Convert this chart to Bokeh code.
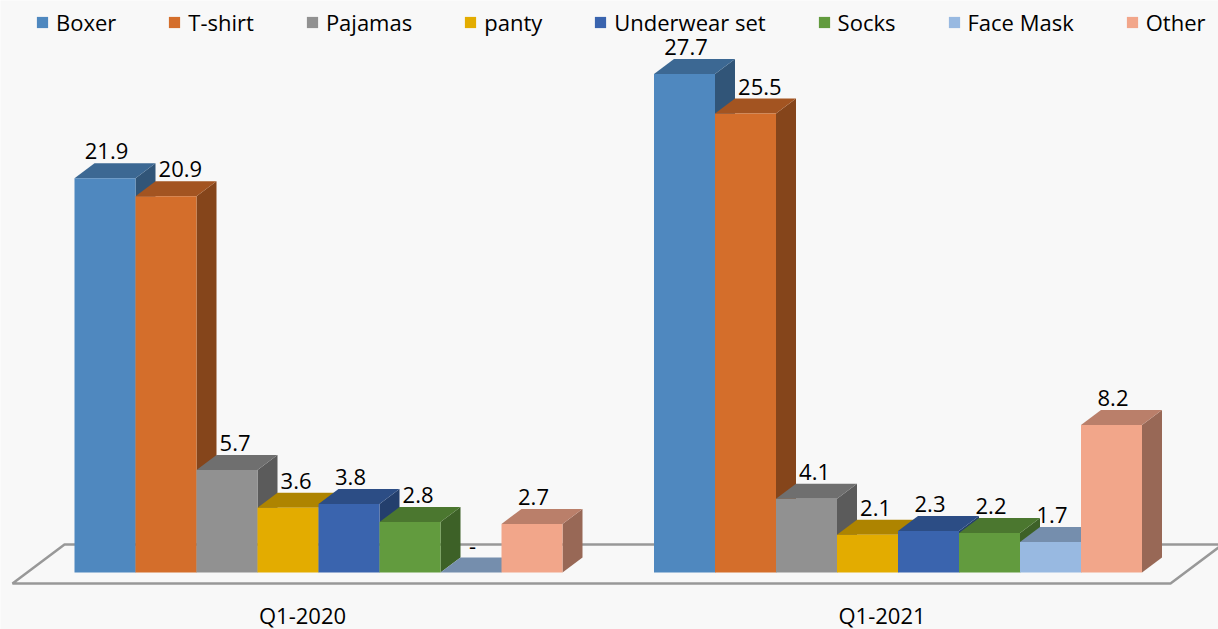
from bokeh.plotting import figure
from bokeh.models import Range1d, Legend, LegendItem, ColumnDataSource
from bokeh.core.properties import value
from bokeh.embed import file_html
from bokeh.resources import INLINE

# ---------------- data ----------------
categories = ["Q1-2020", "Q1-2021"]
series_names = ["Boxer", "T-shirt", "Pajamas", "panty", "Underwear set", "Socks", "Face Mask", "Other"]
boxer = [21.9, 27.7]
tshirt = [20.9, 25.5]
pajamas = [5.7, 4.1]
panty = [3.6, 2.1]
underwear_set = [3.8, 2.3]
socks = [2.8, 2.2]
face_mask = [0.0, 1.7]
other = [2.7, 8.2]
series_values = [boxer, tshirt, pajamas, panty, underwear_set, socks, face_mask, other]
series_colors = ["#4F88BF", "#D46E2B", "#919191", "#E3AC00", "#3A64AE", "#629B3E", "#98B9E1", "#F2A68A"]

# ---------------- layout constants ----------------
W, H = 1218, 629
PX_X = 61.0          # pixels per bar slot
PX_Y = 18.0          # pixels per value unit
X0_PX = 74.0         # left of first bar
BASE_PX = 57.0       # floor (value 0) from bottom of canvas
GROUP_STEP = 9.5     # 8 bars + gap of 1.5 bars
DX = 20 / PX_X       # depth offset x
DY = 15 / PX_Y       # depth offset y
FONT = "Open Sans"
BG = "#f8f8f8"


def shade(hx, f):
    hx = hx.lstrip("#")
    r, g, b = (int(hx[i:i + 2], 16) for i in (0, 2, 4))
    return "#%02x%02x%02x" % (int(r * f), int(g * f), int(b * f))


p = figure(width=W, height=H,
           x_range=Range1d(-X0_PX / PX_X, (W - X0_PX) / PX_X),
           y_range=Range1d(-BASE_PX / PX_Y, (H - BASE_PX) / PX_Y),
           output_backend="svg", toolbar_location=None,
           x_axis_location=None, y_axis_location=None,
           min_border=0, background_fill_color=BG, border_fill_color=BG,
           outline_line_color=None)
p.xgrid.visible = False
p.ygrid.visible = False

n_series = len(series_names)
n_groups = len(categories)

# ---------------- floor ----------------
last_right = GROUP_STEP * (n_groups - 1) + n_series
fy = -11 / PX_Y
by = 28 / PX_Y
shift = (39 * 20 / 15) / PX_X
fl = -62 / PX_X
fr = last_right + 28.5 / PX_X
p.patch([fl, fr, fr + shift, fl + shift, fl], [fy, fy, by, by, fy],
        fill_color=None, line_color="#989898", line_width=2.5)

# ---------------- 3D bars ----------------
side_xs, side_ys, side_c = [], [], []
top_xs, top_ys, top_c = [], [], []
for s in range(n_series):
    for g in range(n_groups):
        v = series_values[s][g]
        xl = g * GROUP_STEP + s
        xr = xl + 1
        side_xs.append([xr, xr + DX, xr + DX, xr])
        side_ys.append([0, DY, v + DY, v])
        side_c.append(shade(series_colors[s], 0.63))
        top_xs.append([xl, xr, xr + DX, xl + DX])
        top_ys.append([v, v, v + DY, v + DY])
        top_c.append(shade(series_colors[s], 0.77))

p.patches(side_xs, side_ys, fill_color=side_c, line_color=None)
p.patches(top_xs, top_ys, fill_color=top_c, line_color=None)

front_renderers = []
for s in range(n_series):
    src = ColumnDataSource(dict(
        left=[g * GROUP_STEP + s for g in range(n_groups)],
        right=[g * GROUP_STEP + s + 1 for g in range(n_groups)],
        top=series_values[s],
        bottom=[0] * n_groups))
    r = p.quad(left="left", right="right", top="top", bottom="bottom", source=src,
               fill_color=series_colors[s], line_color=None)
    front_renderers.append(r)

# ---------------- value labels ----------------
CHAR_W = {".": 5.9, "-": 7.1}


def text_w(t):
    return sum(CHAR_W.get(c, 12.6) for c in t)


lx, ly, lt = [], [], []
for g in range(n_groups):
    for s in range(n_series):
        v = series_values[s][g]
        t = "-" if v == 0 else "%.1f" % v
        w = text_w(t) / PX_X
        cx = g * GROUP_STEP + s + 0.5 + 1.5 / PX_X
        if s > 0:
            pv = series_values[s - 1][g]
            if pv - v > 0.6:
                min_left = g * GROUP_STEP + s + DX + 3 / PX_X
                cx = max(cx, min_left + w / 2)
        lx.append(cx)
        ly.append(v + DY + 12 / PX_Y)
        lt.append(t)
p.text(x=lx, y=ly, text=lt, text_align="center", text_baseline="middle",
       text_font=value(FONT), text_font_size="22px", text_color="#000000")

# ---------------- category labels ----------------
cx = [g * GROUP_STEP + n_series / 2 - 16 / PX_X for g in range(n_groups)]
p.text(x=cx, y=[-42 / PX_Y] * n_groups, text=categories, text_align="center",
       text_baseline="middle", text_font=value(FONT), text_font_size="22px",
       text_color="#000000")

# ---------------- legend ----------------
legend = Legend(items=[LegendItem(label=n, renderers=[r]) for n, r in zip(series_names, front_renderers)],
                orientation="horizontal", location=(35, 592),
                glyph_width=14, glyph_height=14, label_standoff=7, spacing=51,
                padding=0, margin=0, border_line_color=None, background_fill_alpha=0,
                label_text_font=FONT, label_text_font_size="22px", label_text_color="#000000",
                label_height=14, label_width=0)
p.add_layout(legend)

open("out.html", "w").write(file_html(p, INLINE))
